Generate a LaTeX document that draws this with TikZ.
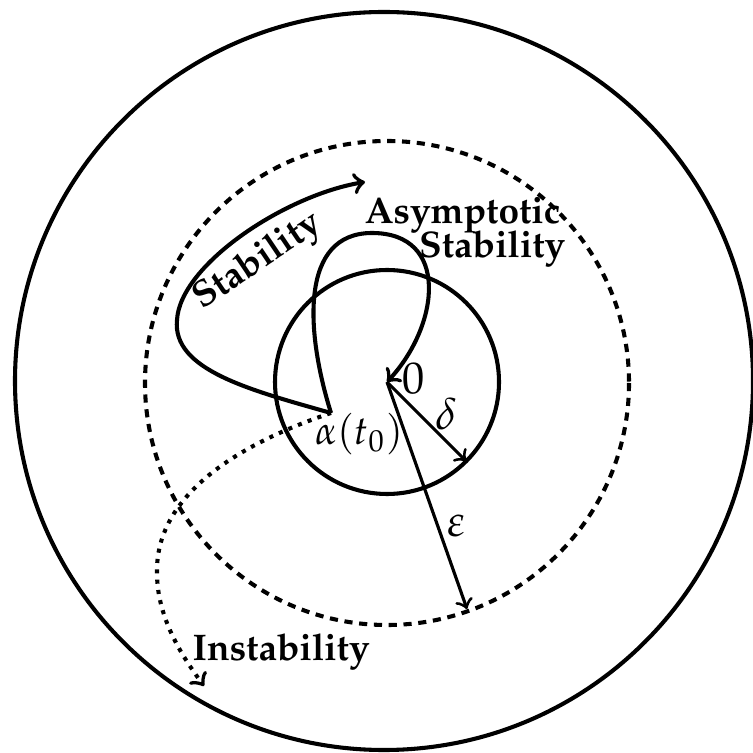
\documentclass[tikz,border=0pt]{standalone}
\usepackage[T1]{fontenc}
\usepackage{mathpazo}
\begin{document}
\begin{tikzpicture}[x=0.27pt,y=-0.27pt,
  solidline/.style={line width=1.1pt},
  thinarrow/.style={line width=0.85pt,->},
  dashcirc/.style={line width=1.1pt,dash pattern=on 2.2pt off 1.8pt},
  dotline/.style={line width=1.1pt,dash pattern=on 1.1pt off 1.7pt},
  lbl/.style={inner sep=0pt,font=\large},
  blbl/.style={inner sep=0pt,font=\bfseries}]
\useasboundingbox (0,0) rectangle (753,753);
\coordinate (O) at (387,382);
\coordinate (A) at (331,413);
\coordinate (D) at (466,461);
\coordinate (E) at (467,609);
\coordinate (S) at (365,182);
\coordinate (I) at (204,686);
% circles
\draw[solidline] (384,381) circle[radius=369];
\draw[dashcirc] (387,383) circle[radius=242];
\draw[solidline] (387,382) circle[radius=112];
% stability curve
\draw[solidline,->] (A) .. controls (250,390) and (172,370) .. (177,320)
  .. controls (180,265) and (285,195) .. (S);
% asymptotic stability loop
\draw[solidline,->] (A) .. controls (305,330) and (300,233) .. (372,233)
  .. controls (450,233) and (440,325) .. (O);
% instability
\draw[dotline,->] (A) .. controls (250,440) and (155,490) .. (157,573)
  .. controls (157,620) and (185,660) .. (I);
% radii
\draw[thinarrow] (O) -- (D);
\draw[thinarrow] (O) -- (E);
% labels
\node[lbl] (zero) at (414,379) {$0$};
\node[lbl] (delta) at (446,414) {$\delta$};
\node[lbl] (eps) at (456,526) {$\varepsilon$};
\node[inner sep=0pt,scale=1.08] (alpha) at (359,434) {$\alpha(t_0)$};
\node[blbl,rotate=34] (stab) at (258,262) {Stability};
\node[blbl,anchor=base east] (asym) at (561,224) {Asymptotic};
\node[blbl,anchor=base east] (astab) at (566,258) {Stability};
\node[blbl,anchor=base west] (inst) at (192,660) {Instability};
\end{tikzpicture}
\end{document}
